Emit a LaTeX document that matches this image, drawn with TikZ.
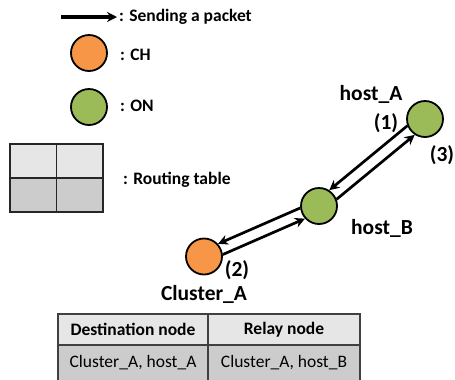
\documentclass[tikz,border=0pt]{standalone}
\usepackage{fontspec}
\setmainfont{Carlito}
\usepackage{tikz}
\usetikzlibrary{arrows.meta}
\usepackage{xcolor}

\definecolor{chorange}{HTML}{F79646}
\definecolor{ongreen}{HTML}{9BBB59}
\definecolor{celllight}{HTML}{E6E6E6}
\definecolor{celldark}{HTML}{CCCCCC}
\definecolor{gridgray}{HTML}{404040}

\begin{document}
\begin{tikzpicture}[x=1bp, y=-1bp,
    chnode/.style={circle, draw=black, line width=1.8bp, fill=chorange, minimum size=36bp, inner sep=0pt},
    onnode/.style={circle, draw=black, line width=1.8bp, fill=ongreen, minimum size=36bp, inner sep=0pt},
    pkt/.style={-{Stealth[length=10bp, width=10bp]}, line width=2.7bp},
    legtext/.style={anchor=west, inner sep=0pt, font=\bfseries\fontsize{17.5bp}{21bp}\selectfont},
    hostlabel/.style={inner sep=0pt, font=\bfseries\fontsize{21.5bp}{26bp}\selectfont},
    legcell/.style={rectangle, draw=black!85, line width=1.6bp, minimum width=46.5bp, minimum height=34bp, inner sep=0pt},
    tabcell/.style={rectangle, draw=gridgray, line width=1.1bp, inner sep=0pt, font=\fontsize{17.5bp}{21bp}\selectfont}
]
\useasboundingbox (0,0) rectangle (455,379);

    % Legend
    \coordinate (legtail) at (61,17);
    \node[legtext] (legsend) at (119,17) {: Sending a packet};
    \draw[pkt, line width=3.4bp] (legtail) -- ([xshift=-2bp]legsend.west);

    \node[chnode] (legch) at (89,53) {};
    \node[legtext] (legchtext) at (120,55) {: CH};
    \node[onnode] (legon) at (89,107) {};
    \node[legtext] (legontext) at (120,106) {: ON};

    \node[legcell, fill=celllight] (lt11) at (33.25,161) {};
    \node[legcell, fill=celllight] (lt12) at (79.75,161) {};
    \node[legcell, fill=celldark] (lt21) at (33.25,195) {};
    \node[legcell, fill=celldark] (lt22) at (79.75,195) {};
    \node[legtext] (legtab) at (123,180) {: Routing table};

    % Hosts
    \node[onnode] (hostA) at (425,119) {};
    \node[onnode] (hostB) at (319,206) {};
    \node[chnode] (clusterA) at (204,256.5) {};

    % Labels
    \node[hostlabel] (hostAlbl) at (371,94) {host\_A};
    \node[hostlabel] (step1) at (386,123) {(1)};
    \node[hostlabel] (step3) at (442,155) {(3)};
    \node[hostlabel] (hostBlbl) at (382,228) {host\_B};
    \node[hostlabel] (step2) at (237,270) {(2)};
    \node[hostlabel] (clusterAlbl) at (204,294) {Cluster\_A};

    % Packets
    \draw[pkt] (hostA.201) -- (hostB.57);
    \draw[pkt] (hostB.21) -- (hostA.237);
    \draw[pkt] (hostB.186) -- (clusterA.42);
    \draw[pkt] (clusterA.6) -- (hostB.222);

    % Routing table
    \node[tabcell, fill=celllight, minimum width=150bp, minimum height=31bp, font=\bfseries\fontsize{17.5bp}{21bp}\selectfont] (dsthead) at (133,329.5) {Destination node};
    \node[tabcell, fill=celllight, minimum width=152bp, minimum height=31bp, font=\bfseries\fontsize{17.5bp}{21bp}\selectfont] (relayhead) at (284,329.5) {Relay node};
    \node[tabcell, fill=celldark, minimum width=150bp, minimum height=36bp] (dstcell) at (133,363) {Cluster\_A, host\_A};
    \node[tabcell, fill=celldark, minimum width=152bp, minimum height=36bp] (relaycell) at (284,363) {Cluster\_A, host\_B};

\end{tikzpicture}
\end{document}
